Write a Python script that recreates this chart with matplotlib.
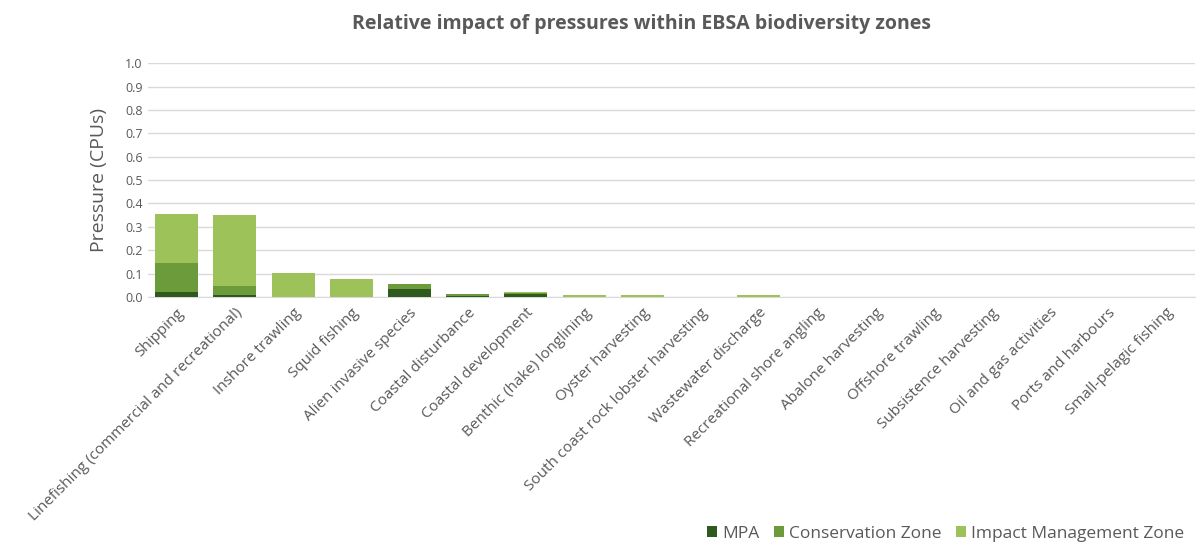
import matplotlib.pyplot as plt
import numpy as np

plt.rcParams['font.family'] = ['Open Sans', 'DejaVu Sans']

categories = ['Shipping', 'Linefishing (commercial and recreational)', 'Inshore trawling',
              'Squid fishing', 'Alien invasive species', 'Coastal disturbance',
              'Coastal development', 'Benthic (hake) longlining', 'Oyster harvesting',
              'South coast rock lobster harvesting', 'Wastewater discharge',
              'Recreational shore angling', 'Abalone harvesting', 'Offshore trawling',
              'Subsistence harvesting', 'Oil and gas activities', 'Ports and harbours',
              'Small-pelagic fishing']
mpa = [0.02, 0.01, 0.0, 0.0, 0.035, 0.003, 0.012, 0.0, 0.0, 0.0, 0.0,
       0.0, 0.0, 0.0, 0.0, 0.0, 0.0, 0.0]
conservation = [0.125, 0.035, 0.0, 0.0, 0.022, 0.009, 0.005, 0.001, 0.001, 0.0, 0.002,
                0.0, 0.0, 0.0, 0.0, 0.0, 0.0, 0.0]
impact = [0.21, 0.305, 0.102, 0.075, 0.0, 0.002, 0.004, 0.006, 0.007, 0.002, 0.007,
          0.001, 0.001, 0.001, 0.0, 0.0, 0.0, 0.0]

c_mpa, c_cons, c_imz = '#2f5a1d', '#6b9b3a', '#9dc25a'
grey = '#595959'

fig = plt.figure(figsize=(12, 5.49), dpi=100)
ax = fig.add_axes([0.123, 0.459, 0.873, 0.426])
x = np.arange(len(categories))
w = 0.74
ax.bar(x, mpa, w, color=c_mpa, label='MPA', zorder=3)
ax.bar(x, conservation, w, bottom=mpa, color=c_cons, label='Conservation Zone', zorder=3)
ax.bar(x, impact, w, bottom=np.array(mpa) + np.array(conservation), color=c_imz,
       label='Impact Management Zone', zorder=3)

ax.set_xlim(-0.5, len(categories) - 0.5)
ax.set_ylim(0, 1.0)
ax.set_yticks(np.arange(0, 1.01, 0.1))
ax.set_yticklabels([f'{v:.1f}' for v in np.arange(0, 1.01, 0.1)], fontsize=9, color=grey)
ax.yaxis.grid(True, color='#d9d9d9', linewidth=1, zorder=0)
for s in ['top', 'right', 'left']:
    ax.spines[s].set_visible(False)
ax.spines['bottom'].set_color('#d9d9d9')
ax.tick_params(axis='both', length=0)
ax.tick_params(axis='x', pad=6)
ax.set_xticks(x)
ax.set_xticklabels(categories, rotation=45, ha='right', rotation_mode='anchor',
                   fontsize=11, color=grey)
ax.set_ylabel('Pressure (CPUs)', fontsize=14, color=grey, labelpad=12)
fig.suptitle('Relative impact of pressures within EBSA biodiversity zones',
             x=0.535, y=0.975, fontsize=14, fontweight='bold', color=grey)
fig.legend(loc='lower right', bbox_to_anchor=(1.0, -0.015), ncol=3, frameon=False,
           fontsize=12.5, handlelength=0.6, handleheight=0.6, handletextpad=0.3,
           columnspacing=0.8, labelcolor=grey)

fig.savefig('out.png', dpi=100)
